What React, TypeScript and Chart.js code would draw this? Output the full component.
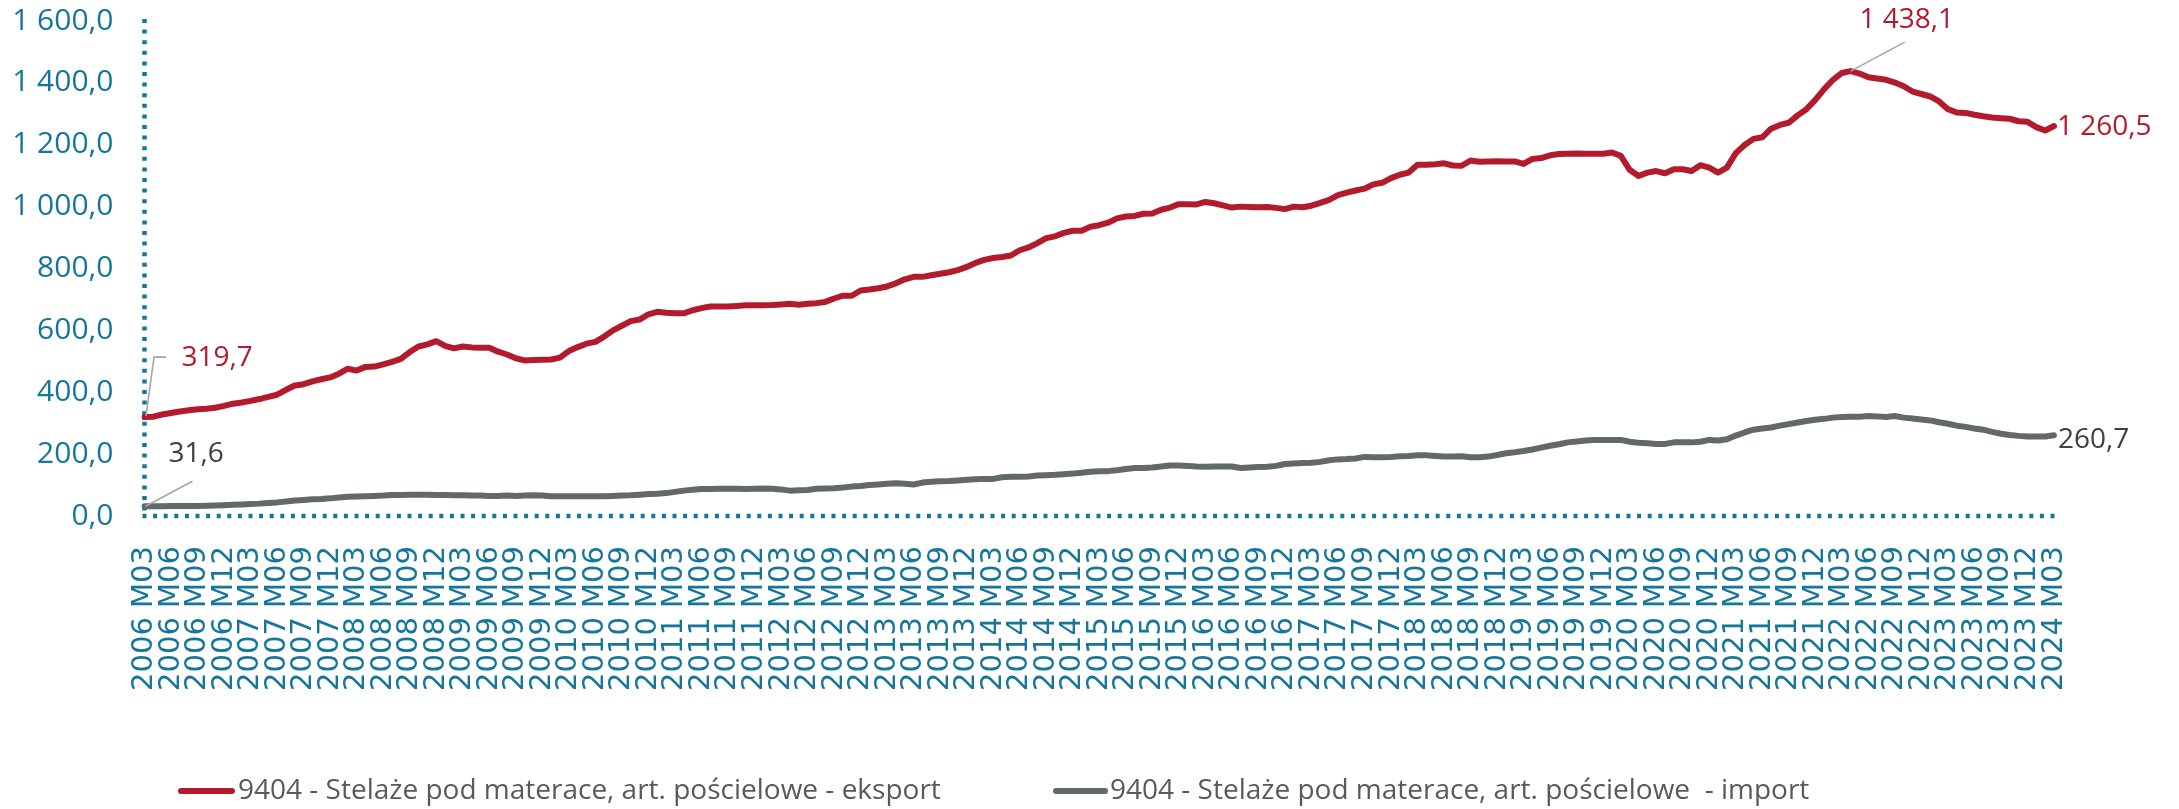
import React, { useEffect, useRef } from 'react';
import { Chart, registerables } from 'chart.js';

Chart.register(...registerables);

// Monthly categories: 2006 M03 ... 2024 M03
const firstYear = 2006;
const firstMonth = 3;
const monthCount = 217;
const categories: string[] = [];
for (let k = 0; k < monthCount; k++) {
  const m = firstMonth - 1 + k;
  const y = firstYear + Math.floor(m / 12);
  const mm = (m % 12) + 1;
  categories.push(`${y} M${mm < 10 ? '0' + mm : mm}`);
}

const seriesNames = [
  '9404 - Stelaże pod materace, art. pościelowe - eksport',
  '9404 - Stelaże pod materace, art. pościelowe  - import',
];

// eksport (red)
const exportValues: number[] = [
  // 2006 M03-M12
  319.7, 321, 328, 333, 338, 342, 345, 347, 350, 356,
  // 2007
  363, 367, 372, 378, 385, 392, 408, 422, 426, 435, 442, 448,
  // 2008
  460, 476, 470, 482, 483, 490, 498, 508, 530, 548, 555, 565,
  // 2009
  550, 542, 548, 545, 544, 544, 531, 522, 510, 503, 504, 505,
  // 2010
  506, 512, 533, 546, 557, 563, 580, 600, 615, 630, 635, 652,
  // 2011
  660, 657, 655, 655, 665, 672, 677, 677, 677, 679, 681, 681,
  // 2012
  681, 682, 684, 686, 683, 686, 688, 692, 703, 712, 712, 729,
  // 2013
  732, 736, 742, 752, 765, 773, 773, 778, 783, 788, 795, 805,
  // 2014
  818, 828, 834, 837, 842, 859, 868, 882, 898, 904, 915, 922,
  // 2015
  922, 935, 940, 948, 962, 968, 970, 977, 978, 990, 997, 1008,
  // 2016
  1008, 1007, 1015, 1011, 1004, 997, 1000, 999, 998, 999, 996, 992,
  // 2017
  1000, 998, 1003, 1012, 1022, 1037, 1045, 1052, 1058, 1072, 1077, 1092,
  // 2018
  1103, 1110, 1135, 1135, 1137, 1140, 1133, 1132, 1149, 1145, 1146, 1147,
  // 2019
  1146, 1146, 1138, 1154, 1157, 1166, 1170, 1171, 1172, 1171, 1171, 1171,
  // 2020
  1175, 1164, 1119, 1099, 1110, 1115, 1108, 1121, 1121, 1115, 1134, 1126,
  // 2021
  1110, 1126, 1173, 1199, 1219, 1224, 1252, 1264, 1271, 1295, 1315, 1345,
  // 2022
  1380, 1410, 1432, 1438.1, 1430, 1418, 1414, 1410, 1401, 1389, 1372, 1364,
  // 2023
  1356, 1340, 1315, 1304, 1303, 1297, 1292, 1288, 1286, 1284, 1276, 1274,
  // 2024 M01-M03
  1257, 1246, 1260.5,
];

// import (grey)
const importValues: number[] = [
  // 2006 M03-M12
  31.6, 31.5, 31.5, 32, 32, 32, 32.5, 33, 34, 35,
  // 2007
  36.5, 37.5, 39, 40, 42, 44, 47, 50, 52, 54, 55, 57,
  // 2008
  60, 62, 63, 64, 65, 66, 68, 68, 69, 69, 69, 68,
  // 2009
  68, 67, 67, 66, 66, 65, 65, 66, 65, 66, 67, 66,
  // 2010
  64, 64, 64, 64, 64, 64, 64, 65, 66, 67, 69, 71,
  // 2011
  72, 74, 78, 82, 85, 87, 87, 88, 88, 88, 87, 88,
  // 2012
  89, 88, 86, 82, 83, 84, 88, 89, 90, 92, 95, 97,
  // 2013
  100, 102, 104, 106, 104, 102, 108, 111, 112, 113, 115, 117,
  // 2014
  119, 120, 120, 125, 127, 127, 128, 131, 132, 133, 135, 137,
  // 2015
  140, 143, 145, 145, 148, 152, 155, 155, 157, 160, 163, 163,
  // 2016
  162, 160, 159, 160, 160, 160, 155, 157, 158, 159, 162, 168,
  // 2017
  170, 171, 172, 175, 180, 183, 184, 186, 191, 190, 190, 191,
  // 2018
  193, 194, 196, 196, 194, 192, 192, 193, 190, 190, 192, 197,
  // 2019
  203, 206, 210, 215, 221, 227, 232, 238, 241, 244, 246, 246,
  // 2020
  246, 246, 240, 237, 235, 233, 233, 238, 238, 238, 240, 246,
  // 2021
  244, 248, 260, 270, 279, 283, 286, 292, 297, 302, 307, 311,
  // 2022
  314, 318, 320, 321, 321, 323, 322, 320, 323, 318, 315, 312,
  // 2023
  309, 303, 298, 292, 288, 283, 279, 272, 266, 262, 259, 257,
  // 2024 M01-M03
  257, 257, 260.7,
];

const yMin = 0;
const yMax = 1600;
const yStep = 200;

const RED = '#B31B2C';
const GREY = '#63686B';
const TEAL = '#15769A';
const LABEL_DARK = '#404040';
const LEADER = '#A6A6A6';
const FONT = "'Open Sans', 'DejaVu Sans', sans-serif";

const fmt = (v: number) => {
  const s = v.toFixed(1);
  const [intPart, dec] = s.split('.');
  return intPart.replace(/\B(?=(\d{3})+(?!\d))/g, ' ') + ',' + dec;
};

const axisLinesPlugin = {
  id: 'dottedAxes',
  beforeDatasetsDraw(chart: any) {
    const { ctx, chartArea } = chart;
    ctx.save();
    ctx.strokeStyle = TEAL;
    ctx.lineWidth = 4.5;
    ctx.setLineDash([4, 6.6]);
    ctx.lineCap = 'butt';
    ctx.beginPath();
    ctx.moveTo(chartArea.left, chartArea.top - 2);
    ctx.lineTo(chartArea.left, chartArea.bottom);
    ctx.stroke();
    ctx.beginPath();
    ctx.moveTo(chartArea.left - 2, chartArea.bottom);
    ctx.lineTo(chartArea.right + 2, chartArea.bottom);
    ctx.stroke();
    ctx.restore();
  },
};

const labelsPlugin = {
  id: 'valueLabels',
  afterDatasetsDraw(chart: any) {
    const { ctx } = chart;
    const exp = chart.getDatasetMeta(0).data;
    const imp = chart.getDatasetMeta(1).data;
    const last = exportValues.length - 1;
    let peak = 0;
    exportValues.forEach((v, i) => {
      if (v > exportValues[peak]) peak = i;
    });
    ctx.save();
    ctx.font = `28px ${FONT}`;
    ctx.textBaseline = 'middle';
    ctx.strokeStyle = LEADER;
    ctx.lineWidth = 1.6;

    // first export
    let p = exp[0];
    ctx.beginPath();
    ctx.moveTo(p.x + 1.5, p.y - 1);
    ctx.lineTo(p.x + 9.5, p.y - 60);
    ctx.lineTo(p.x + 21.5, p.y - 60);
    ctx.stroke();
    ctx.fillStyle = RED;
    ctx.textAlign = 'left';
    ctx.fillText(fmt(exportValues[0]), p.x + 37, p.y - 59);

    // first import
    p = imp[0];
    ctx.beginPath();
    ctx.moveTo(p.x + 1, p.y);
    ctx.lineTo(p.x + 48, p.y - 25);
    ctx.stroke();
    ctx.fillStyle = LABEL_DARK;
    ctx.fillText(fmt(importValues[0]), p.x + 24, p.y - 52);

    // peak export
    p = exp[peak];
    ctx.beginPath();
    ctx.moveTo(p.x, p.y);
    ctx.lineTo(p.x + 54, p.y - 29);
    ctx.stroke();
    ctx.fillStyle = RED;
    ctx.textAlign = 'center';
    ctx.fillText(fmt(exportValues[peak]), p.x + 56, p.y - 51);

    // last export
    p = exp[last];
    ctx.textAlign = 'left';
    ctx.fillStyle = RED;
    ctx.fillText(fmt(exportValues[last]), p.x + 3, p.y + 1);

    // last import
    p = imp[last];
    ctx.fillStyle = LABEL_DARK;
    ctx.fillText(fmt(importValues[last]), p.x + 4, p.y + 5);
    ctx.restore();
  },
};

const legendPlugin = {
  id: 'customLegend',
  afterDraw(chart: any) {
    const { ctx } = chart;
    const items = [
      { color: RED, text: seriesNames[0], x0: 178, x1: 235, tx: 238 },
      { color: GREY, text: seriesNames[1], x0: 1053, x1: 1108, tx: 1110 },
    ];
    const y = 791;
    ctx.save();
    ctx.font = `28px ${FONT}`;
    ctx.textBaseline = 'middle';
    ctx.textAlign = 'left';
    items.forEach((it) => {
      ctx.strokeStyle = it.color;
      ctx.lineWidth = 6;
      ctx.lineCap = 'round';
      ctx.beginPath();
      ctx.moveTo(it.x0 + 3, y);
      ctx.lineTo(it.x1 - 3, y);
      ctx.stroke();
      ctx.fillStyle = '#595959';
      ctx.fillText(it.text, it.tx, y);
    });
    ctx.restore();
  },
};

export default function App() {
  const canvasRef = useRef<HTMLCanvasElement | null>(null);

  useEffect(() => {
    if (!canvasRef.current) return;
    const chart = new Chart(canvasRef.current, {
      type: 'line',
      data: {
        labels: categories,
        datasets: [
          {
            label: seriesNames[0],
            data: exportValues,
            borderColor: RED,
            backgroundColor: RED,
            borderWidth: 6,
            pointRadius: 0,
            tension: 0,
            borderCapStyle: 'round',
            borderJoinStyle: 'round',
          },
          {
            label: seriesNames[1],
            data: importValues,
            borderColor: GREY,
            backgroundColor: GREY,
            borderWidth: 6,
            pointRadius: 0,
            tension: 0,
            borderCapStyle: 'round',
            borderJoinStyle: 'round',
          },
        ],
      },
      options: {
        animation: false,
        responsive: false,
        maintainAspectRatio: false,
        devicePixelRatio: 1,
        layout: { padding: { top: 21, right: 125, left: 0, bottom: 0 } },
        plugins: {
          legend: { display: false },
          tooltip: { enabled: false },
        },
        scales: {
          x: {
            type: 'category',
            offset: false,
            grid: { display: false, drawTicks: false, tickLength: 0 },
            border: { display: false },
            ticks: {
              autoSkip: false,
              maxRotation: 90,
              minRotation: 90,
              padding: 30,
              color: TEAL,
              font: { family: "'DejaVu Sans', sans-serif", size: 29 },
              callback: (_v: any, i: number) => (i % 3 === 0 ? categories[i] : ''),
            },
            afterFit: (scale: any) => {
              scale.height = 293;
              scale.paddingLeft = 0;
              scale.paddingRight = 0;
            },
          },
          y: {
            min: yMin,
            max: yMax,
            grid: { display: false, drawTicks: false, tickLength: 0 },
            border: { display: false },
            ticks: {
              stepSize: yStep,
              padding: 31,
              color: TEAL,
              font: { family: FONT, size: 30 },
              callback: (v: any) => fmt(Number(v)),
            },
            afterFit: (scale: any) => {
              scale.width = 144.5;
              scale.paddingTop = 0;
              scale.paddingBottom = 0;
            },
          },
        },
      },
      plugins: [axisLinesPlugin, labelsPlugin, legendPlugin],
    });
    return () => chart.destroy();
  }, []);

  return (
    <div style={{ position: 'fixed', left: 0, top: 0, width: 2179, height: 809, background: '#fff' }}>
      <canvas ref={canvasRef} width={2179} height={809} style={{ width: 2179, height: 809 }} />
    </div>
  );
}
